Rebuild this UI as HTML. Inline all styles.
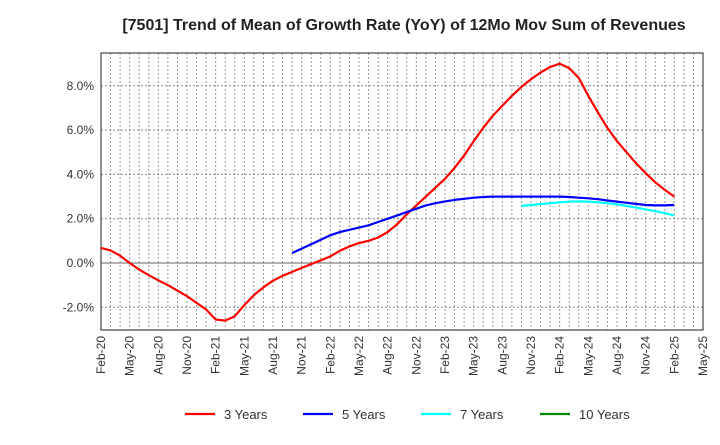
<!DOCTYPE html>
<html><head><meta charset="utf-8"><style>
body{margin:0;background:#fff}
svg{font-family:"Liberation Sans",sans-serif}
</style></head><body>
<svg id="chart" width="720" height="440" xmlns="http://www.w3.org/2000/svg">
<text x="404" y="30" text-anchor="middle" font-size="16" font-weight="bold" fill="#222">[7501]  Trend of Mean of Growth Rate (YoY) of 12Mo Mov Sum of Revenues</text>
<g id="grid"></g><g id="axes"></g><g id="series"></g><g id="legend"></g>
</svg>
<script>
const xTickLabels=["Feb-20","May-20","Aug-20","Nov-20","Feb-21","May-21","Aug-21","Nov-21","Feb-22","May-22","Aug-22","Nov-22","Feb-23","May-23","Aug-23","Nov-23","Feb-24","May-24","Aug-24","Nov-24","Feb-25","May-25"];
const yTicks=[-2,0,2,4,6,8];
const years3Start=0;
const years3=[0.68,0.57,0.33,0.0,-0.3,-0.55,-0.78,-1.0,-1.25,-1.5,-1.8,-2.1,-2.55,-2.6,-2.4,-1.9,-1.45,-1.1,-0.8,-0.58,-0.4,-0.22,-0.05,0.12,0.3,0.55,0.75,0.9,1.0,1.15,1.4,1.75,2.2,2.6,3.0,3.4,3.8,4.3,4.85,5.5,6.1,6.65,7.1,7.55,7.95,8.3,8.6,8.85,9.0,8.8,8.35,7.55,6.8,6.1,5.5,5.0,4.5,4.05,3.65,3.3,3.0];
const years5Start=20;
const years5=[0.45,0.65,0.85,1.05,1.25,1.4,1.5,1.6,1.7,1.85,2.0,2.15,2.3,2.45,2.6,2.7,2.78,2.85,2.9,2.95,2.98,3.0,3.0,3.0,3.0,3.0,3.0,3.0,3.0,2.98,2.95,2.92,2.88,2.82,2.77,2.72,2.67,2.62,2.6,2.6,2.62];
const years7Start=44;
const years7=[2.58,2.62,2.66,2.7,2.74,2.77,2.78,2.77,2.74,2.7,2.65,2.58,2.5,2.42,2.34,2.25,2.15];
const years10=[];
</script>
<script>
const NS="http://www.w3.org/2000/svg";
const L=101,R=703,T=53,B=330,months=63;
const xs=i=>L+(R-L)*i/months;
const ys=v=>263-v*22.15;
function mk(tag,attrs,parent){const e=document.createElementNS(NS,tag);for(const k in attrs)e.setAttribute(k,attrs[k]);parent.appendChild(e);return e;}
const grid=document.getElementById('grid'),axes=document.getElementById('axes'),series=document.getElementById('series'),legend=document.getElementById('legend');
for(let m=1;m<months;m++){const l=mk('line',{x1:xs(m),x2:xs(m),y1:T,y2:B,stroke:'#999','stroke-dasharray':'2,2','stroke-width':1},grid);

}
yTicks.forEach(v=>{const l=mk('line',{x1:L,x2:R,y1:ys(v),y2:ys(v),stroke:v===0?'#666':'#888','stroke-dasharray':v===0?'':'2,2','stroke-width':1},grid);


const t=mk('text',{x:94,y:ys(v)+4,'text-anchor':'end','font-size':12,fill:'#333'},axes);t.textContent=v.toFixed(1)+'%';

});
xTickLabels.forEach((s,i)=>{const x=xs(i*3);const t=mk('text',{x:0,y:0,'text-anchor':'end','font-size':12,fill:'#333',transform:`translate(${x+4},${B+6}) rotate(-90)`},axes);t.textContent=s;

});
const frame=mk('rect',{x:L,y:T,width:R-L,height:B-T,fill:'none',stroke:'#444','stroke-width':1.2},axes);


function line(arr,start,color,name){if(!arr.length)return;const d=arr.map((v,i)=>(i?'L':'M')+xs(start+i).toFixed(1)+','+ys(v).toFixed(1)).join('');
const p=mk('path',{d,fill:'none',stroke:color,'stroke-width':2.2,'stroke-linejoin':'round'},series);

}
line(years3,years3Start,'#f00','series-3-years');
line(years5,years5Start,'#00f','series-5-years');
line(years7,years7Start,'#0ff','series-7-years');
line(years10,0,'#080','series-10-years');
[['3 Years','#f00',185],['5 Years','#00f',303],['7 Years','#0ff',421],['10 Years','#080',540]].forEach(([s,c,x])=>{
const g=mk('g',{},legend);


mk('line',{x1:x,x2:x+30,y1:414,y2:414,stroke:c,'stroke-width':2.2},g);
const t=mk('text',{x:x+39,y:419,'font-size':13,fill:'#333'},g);t.textContent=s;});
</script>
</body></html>
